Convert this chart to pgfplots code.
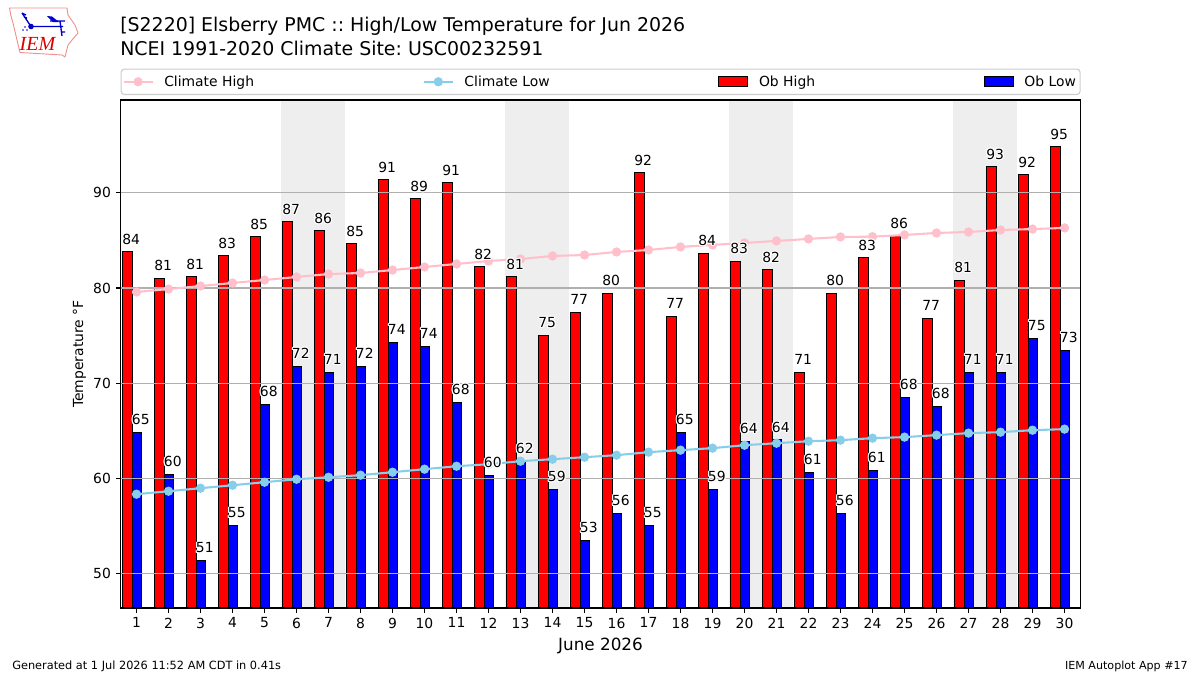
\documentclass[border=0pt]{standalone}
\usepackage{fontspec}
\setmainfont{DejaVu Sans}
\newfontfamily\logofont{Liberation Serif}
\usepackage{pgfplots}
\usepackage{pgfplotstable}
\usepackage[copies]{contour}
\contourlength{0.8pt}
\contournumber{16}
\pgfplotsset{compat=1.18}
\definecolor{shade}{HTML}{EEEEEE}
\definecolor{gridc}{HTML}{B0B0B0}
\definecolor{climhi}{HTML}{FFC0CB}
\definecolor{climlo}{HTML}{87CEEB}
\definecolor{legedge}{HTML}{CCCCCC}
\definecolor{logored}{HTML}{F09090}
\pgfplotsset{
  layers/iem/.define layer set={axis background,pre main,axis grid,main,axis ticks,axis lines,axis tick labels,axis descriptions,axis foreground}{},
}
\pgfplotstableread{
d chi  clo  obh  obl  lh ll
1  79.58 58.32 83.79 64.84 84 65
2  79.89 58.63 81.05 60.42 81 60
3  80.21 58.95 81.19 51.37 81 51
4  80.53 59.26 83.37 55.05 83 55
5  80.84 59.58 85.37 67.79 85 68
6  81.16 59.89 86.95 71.79 87 72
7  81.47 60.10 86.00 71.16 86 71
8  81.58 60.32 84.63 71.79 85 72
9  81.89 60.63 91.37 74.32 91 74
10 82.21 60.95 89.37 73.89 89 74
11 82.53 61.26 91.05 68.00 91 68
12 82.84 61.47 82.21 60.32 82 60
13 83.05 61.79 81.19 61.80 81 62
14 83.37 62.00 75.05 58.84 75 59
15 83.47 62.21 77.47 53.47 77 53
16 83.79 62.42 79.47 56.32 80 56
17 84.00 62.74 92.10 55.05 92 55
18 84.32 62.95 77.05 64.84 77 65
19 84.53 63.16 83.68 58.84 84 59
20 84.74 63.47 82.84 63.89 83 64
21 84.95 63.68 81.90 64.04 82 64
22 85.16 63.89 71.16 60.63 71 61
23 85.37 64.00 79.47 56.32 80 56
24 85.40 64.21 83.16 60.84 83 61
25 85.58 64.32 85.47 68.53 86 68
26 85.79 64.53 76.84 67.58 77 68
27 85.89 64.74 80.84 71.16 81 71
28 86.10 64.84 92.74 71.16 93 71
29 86.20 65.05 91.89 74.74 92 75
30 86.32 65.16 94.84 73.47 95 73
}\datatable
\pgfplotsset{
  linehandle/.style={legend image code/.code={\draw[sharp corners,mark repeat=2,mark phase=2,##1] plot coordinates {(0pt,0pt)(10.9pt,0pt)(21.75pt,0pt)};}},
  barhandle/.style={legend image code/.code={\draw[sharp corners,fill=#1,draw=black,line width=0.75pt] (0pt,-3.6pt) rectangle (21.75pt,3.6pt);}},
  vallabel/.style={forget plot,on layer=axis foreground,only marks,mark=none,point meta=explicit symbolic,
    nodes near coords={\contour{white}{\pgfplotspointmeta}},
    every node near coord/.style={anchor=base,inner sep=0pt,xshift=#1,yshift=5.6pt,font=\fontsize{10.42}{12}\selectfont,text=black}},
}
\frenchspacing
\begin{document}
\begin{tikzpicture}
\begin{axis}[
  at={(90.375pt,-456pt)},anchor=south west,
  scale only axis,width=720pt,height=381pt,
  set layers=iem,
  xmin=0.5,xmax=30.5,ymin=46.35,ymax=99.77,
  xtick={1,...,30},ytick={50,60,70,80,90},
  ymajorgrids,
  grid style={gridc,line width=0.83pt},
  axis line style={black,line width=0.83pt},
  tick style={black,line width=0.83pt},
  major tick length=3.65pt,
  tick align=outside,xtick pos=bottom,ytick pos=left,
  /pgf/number format/assume math mode=true,
  tick label style={font=\fontsize{10.42}{12}\selectfont,text=black},
  xticklabel style={yshift=-0.2pt},
  xlabel={June 2026},
  xlabel style={font=\fontsize{12.6}{14}\selectfont,at={(axis description cs:0.5,0)},anchor=base,yshift=-31.6pt},
  ylabel={Temperature °F},
  ylabel style={font=\fontsize{10.42}{12}\selectfont,at={(axis description cs:0,0.5)},anchor=base,yshift=28pt},
  legend columns=4,
  legend cell align=left,
  legend style={at={(axis description cs:0,1.0098)},anchor=south west,draw=legedge,line width=0.83pt,rounded corners=2.5pt,
    font=\fontsize{10.42}{12}\selectfont,inner xsep=1.1pt,inner ysep=3.3pt,
    /tikz/every even column/.append style={column sep=124.5pt},
    /tikz/every odd column/.append style={column sep=6pt},
    nodes={inner xsep=2pt,inner ysep=1.5pt}},
]
% weekend shading
\addplot[forget plot,on layer=axis background,fill=shade,draw=none] coordinates {(5.5,46.35)(5.5,99.77)(7.5,99.77)(7.5,46.35)} --cycle;
\addplot[forget plot,on layer=axis background,fill=shade,draw=none] coordinates {(12.5,46.35)(12.5,99.77)(14.5,99.77)(14.5,46.35)} --cycle;
\addplot[forget plot,on layer=axis background,fill=shade,draw=none] coordinates {(19.5,46.35)(19.5,99.77)(21.5,99.77)(21.5,46.35)} --cycle;
\addplot[forget plot,on layer=axis background,fill=shade,draw=none] coordinates {(26.5,46.35)(26.5,99.77)(28.5,99.77)(28.5,46.35)} --cycle;
% climate
\addplot[climhi,line width=1.56pt,mark=*,mark size=3.1pt,mark options={fill=climhi,draw=climhi,line width=0.75pt},linehandle] table[x=d,y=chi] {\datatable};
\addlegendentry{Climate High}
\addplot[climlo,line width=1.56pt,mark=*,mark size=3.1pt,mark options={fill=climlo,draw=climlo,line width=0.75pt},linehandle] table[x=d,y=clo] {\datatable};
\addlegendentry{Climate Low}
% bars
\addplot[ybar,bar width=0.3,bar shift=-0.29,on layer=pre main,fill=red,draw=black,line width=0.75pt,barhandle=red] table[x=d,y=obh] {\datatable};
\addlegendentry{Ob High}
\addplot[ybar,bar width=0.3,bar shift=0.01,on layer=pre main,fill=blue,draw=black,line width=0.75pt,barhandle=blue] table[x=d,y=obl] {\datatable};
\addlegendentry{Ob Low}
% value labels
\addplot[vallabel=-3.96pt] table[x=d,y=obh,meta=lh] {\datatable};
\addplot[vallabel=3.24pt] table[x=d,y=obl,meta=ll] {\datatable};
\end{axis}
\begin{scope}[x=0.75pt,y=-0.75pt]
  % titles
  \node[anchor=base west,inner sep=0pt,font=\fontsize{14.2}{17}\selectfont] at (120,31.5) {[S2220] Elsberry PMC :: High/Low Temperature for Jun 2026};
  \node[anchor=base west,inner sep=0pt,font=\fontsize{14.2}{17}\selectfont] at (120,55) {NCEI 1991-2020 Climate Site: USC00232591};
  % footers
  \node[anchor=base west,inner sep=0pt,font=\fontsize{8.5}{10}\selectfont] at (12,669) {Generated at 1 Jul 2026 11:52 AM CDT in 0.41s};
  \node[anchor=base east,inner sep=0pt,font=\fontsize{8.33}{10}\selectfont] at (1188,669) {IEM Autoplot App \#17};
  % logo
  \draw[logored,line width=0.7pt,line join=round] (9.5,8)--(67,8)--(68,15)--(75,25)--(78,33)--(72,40)--(68,45)--(65,57)--(62,55)--(20,52.5)--(17,40)--(13,23)--(11,16)--cycle;
  \draw[blue!80!black,line width=1pt] (31,26.5)--(63,26.5) (31,26.5)--(22,13) (22,13)--(26,15) (24,17)--(27,18) (60,21)--(62,36) (62,32)--(65,32) (50,21)--(65,21);
  \fill[blue!80!black] (31,26.5) circle (2.8);
  \fill[blue!80!black] (47,16)--(52,16.5)--(59,22)--(53,22)--cycle;
  \fill[blue!80!black] (25,27) circle (0.9) (23,30) circle (0.9) (27,30) circle (0.9);
  \node[inner sep=0pt,text=red!85!black,font=\logofont\itshape\fontsize{15}{16}\selectfont] at (37.5,44) {IEM};
\end{scope}
\pgfresetboundingbox
\path[use as bounding box] (0pt,0pt) rectangle (900pt,-506.25pt);
\end{tikzpicture}
\end{document}
